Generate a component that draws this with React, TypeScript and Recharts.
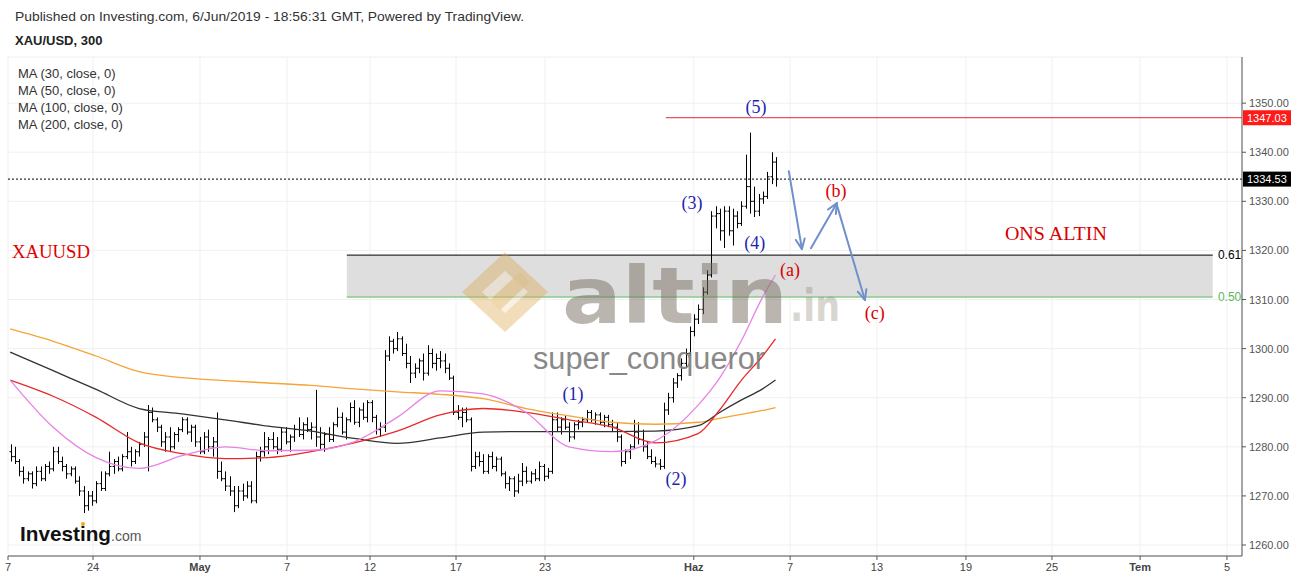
import React from 'react';
import {
  ComposedChart, Bar, Line, XAxis, YAxis, CartesianGrid,
  ReferenceLine, ReferenceArea, ReferenceDot,
} from 'recharts';

// ---------- data ----------
// OHLC bars: [open, high, low, close]
const bars: number[][] = [
  [1279, 1280.5, 1277, 1278], [1278, 1280, 1276.5, 1277],
  [1277, 1277.5, 1274, 1275], [1275, 1276, 1272.5, 1273.5], [1273.5, 1275, 1273, 1274.5], [1274.5, 1275, 1271.5, 1272.5],
  [1272.5, 1276, 1272, 1275], [1275, 1276, 1273, 1273.5], [1273.5, 1276.5, 1273, 1276], [1276, 1277, 1274.5, 1275.5],
  [1275.5, 1280, 1275, 1279], [1279, 1280, 1276.5, 1277],
  [1277, 1278, 1275, 1276], [1276, 1276.5, 1273.5, 1274.5], [1274.5, 1276, 1274, 1275.5], [1275.5, 1276, 1272.5, 1273],
  [1273, 1274, 1270, 1271], [1271, 1272, 1266.5, 1268], [1268, 1271, 1267, 1270], [1270, 1271, 1268, 1269],
  [1269, 1273, 1268.5, 1272.5], [1272.5, 1275, 1271, 1271.5], [1271.5, 1275, 1271, 1274.5],
  [1274.5, 1279, 1274, 1276], [1276, 1277.5, 1274.5, 1277], [1277, 1278, 1275, 1275.5], [1275.5, 1278.5, 1275, 1278],
  [1278, 1283, 1277.5, 1279], [1279, 1280, 1276, 1277], [1277, 1279.5, 1276.5, 1279], [1279, 1281, 1278, 1280.5],
  [1280.5, 1283, 1280, 1282], [1282, 1288.5, 1275, 1287],
  [1287, 1288, 1285, 1285.5], [1285.5, 1286, 1283, 1284], [1284, 1284.5, 1280, 1281], [1281, 1283, 1279, 1282],
  [1282, 1284, 1279, 1280], [1280, 1283, 1279.5, 1282.5], [1282.5, 1284, 1281, 1283.5], [1283.5, 1286, 1283, 1285.5],
  [1285.5, 1286, 1282.5, 1283],
  [1283, 1284.5, 1281, 1284], [1284, 1284.5, 1280, 1281], [1281, 1282, 1278.5, 1279], [1279, 1283, 1278.5, 1282],
  [1282, 1283.5, 1279, 1280], [1280, 1282, 1278, 1281], [1281, 1287, 1273.5, 1275],
  [1275, 1277, 1273, 1273.5], [1273.5, 1275, 1271, 1272], [1272, 1274, 1270, 1271], [1271, 1272, 1266.7, 1268],
  [1268, 1272, 1267.5, 1271], [1271, 1272.5, 1269, 1270], [1270, 1273, 1269.5, 1272], [1272, 1273, 1268.5, 1269],
  [1269, 1279, 1268.5, 1278],
  [1278, 1280, 1277, 1279], [1279, 1283, 1278, 1280], [1280, 1282, 1278.5, 1281.5], [1281.5, 1283, 1279.5, 1280],
  [1280, 1282, 1278.5, 1279.5], [1279.5, 1284, 1279, 1283], [1283, 1284, 1280.5, 1281], [1281, 1282.5, 1279, 1282],
  [1282, 1284.5, 1281, 1283.5],
  [1283.5, 1286, 1282, 1282.5], [1282.5, 1285, 1281.5, 1284.5], [1284.5, 1286, 1283, 1283.5], [1283.5, 1285, 1281.5, 1284],
  [1284, 1291.6, 1280, 1282],
  [1282, 1284, 1279.5, 1280.5], [1280.5, 1283, 1279, 1282.5], [1282.5, 1284, 1281, 1281.5], [1281.5, 1285, 1281, 1284.5],
  [1284.5, 1288, 1284, 1286], [1286, 1287, 1282.5, 1283], [1283, 1286, 1281.5, 1285.5], [1285.5, 1289, 1285, 1288],
  [1288, 1289.5, 1284.5, 1285], [1285, 1288, 1284, 1287.5], [1287.5, 1289, 1285.5, 1286], [1286, 1289.5, 1285, 1289],
  [1289, 1289.5, 1285, 1286],
  [1286, 1286.5, 1282.5, 1283.5], [1283.5, 1285, 1282, 1284], [1284, 1299.7, 1283, 1298.5],
  [1298.5, 1302.5, 1297.5, 1301.5], [1301.5, 1302, 1299, 1300], [1300, 1303.4, 1299.5, 1302],
  [1302, 1302.5, 1298.5, 1299], [1299, 1301, 1296, 1297],
  [1297, 1298.5, 1293, 1295], [1295, 1297, 1294, 1296], [1296, 1298, 1295, 1297.5], [1297.5, 1299, 1293.5, 1295],
  [1295, 1300.7, 1294.5, 1299], [1299, 1300, 1296, 1297], [1297, 1299, 1295.5, 1298], [1298, 1299.5, 1296, 1297.5],
  [1297.5, 1299, 1295, 1296], [1296, 1297, 1293.6, 1294],
  [1294, 1294.5, 1286.5, 1287], [1287, 1288.5, 1285.5, 1286], [1286, 1288, 1284, 1287], [1287, 1288, 1285, 1285.5],
  [1285.5, 1286, 1275, 1276],
  [1276, 1279, 1275.5, 1278], [1278, 1279, 1276, 1277], [1277, 1278.5, 1274.5, 1275], [1275, 1278.5, 1274.5, 1278],
  [1278, 1279, 1275.5, 1276], [1276, 1278, 1275, 1277.5], [1277.5, 1278, 1274, 1274.5],
  [1274.5, 1275, 1271.5, 1272.5], [1272.5, 1274, 1271, 1273.5], [1273.5, 1274, 1269.8, 1271], [1271, 1274.5, 1270.5, 1273],
  [1273, 1276.7, 1272, 1275], [1275, 1276, 1272.5, 1273],
  [1273, 1275, 1272.5, 1274.5], [1274.5, 1275.5, 1273, 1273.5], [1273.5, 1277, 1273, 1276], [1276, 1276.5, 1273, 1274],
  [1274, 1275.7, 1273.5, 1275], [1275, 1287, 1274.5, 1285.5],
  [1285.5, 1287, 1283, 1284], [1284, 1286, 1282.5, 1285.5], [1285.5, 1286.5, 1283.5, 1284], [1284, 1285, 1281, 1282],
  [1282, 1285, 1281.5, 1284.5], [1284.5, 1285.5, 1283.5, 1285], [1285, 1286, 1284, 1285.5],
  [1285.5, 1287.5, 1285, 1287], [1287, 1287.5, 1285, 1285.5], [1285.5, 1287, 1284.5, 1286.5], [1286.5, 1287, 1284.5, 1285],
  [1285, 1286.5, 1284, 1286], [1286, 1286.5, 1284, 1284.5], [1284.5, 1285.5, 1283, 1284],
  [1284, 1285, 1281, 1282], [1282, 1282.5, 1276, 1277], [1277, 1279.5, 1276.5, 1279], [1279, 1280.5, 1277.5, 1280],
  [1280, 1285.5, 1279.5, 1283], [1283, 1285, 1280.5, 1281.5], [1281.5, 1283.5, 1279, 1280],
  [1280, 1281, 1277.5, 1278], [1278, 1279.5, 1276.5, 1277], [1277, 1278, 1275.8, 1276.5], [1276.5, 1277.5, 1275.3, 1276],
  [1276, 1289, 1275.5, 1287.5], [1287.5, 1291, 1286.5, 1290], [1290, 1294, 1289, 1293], [1293, 1295, 1292, 1294.5],
  [1294.5, 1298, 1293.5, 1297], [1297, 1300, 1296, 1299], [1299, 1304.5, 1298.5, 1303.5], [1303.5, 1307, 1302.5, 1306],
  [1306, 1309, 1305, 1308], [1308, 1312.5, 1307, 1311.5], [1311.5, 1316, 1311, 1315], [1315, 1328, 1314.5, 1327],
  [1327, 1329, 1324.5, 1327.5], [1327.5, 1328.5, 1322, 1324], [1324, 1329, 1320.5, 1328], [1328, 1329, 1323, 1324],
  [1324, 1328.5, 1321, 1327], [1327, 1328, 1324.5, 1325.5], [1325.5, 1330, 1325, 1329], [1329, 1339.5, 1328.5, 1333],
  [1333, 1344, 1327.5, 1330], [1330, 1333, 1326.8, 1328], [1328, 1331.5, 1327, 1330.5], [1330.5, 1332, 1329.5, 1331],
  [1331, 1336, 1330.5, 1335], [1335, 1340, 1333.5, 1338], [1338, 1339, 1333, 1334.53],
];

// moving averages read at these bar indices
const maIdx = [0, 10, 20, 30, 40, 50, 60, 70, 80, 90, 100, 110, 120, 130, 140, 150, 160, 165, 170, 175, 178];
const ma30 = [1293.6, 1284, 1277.8, 1275.6, 1278.2, 1280, 1279.2, 1279.3, 1281, 1286, 1291.4, 1290.8, 1287, 1280, 1279, 1281.2, 1288.5, 1294, 1301.5, 1310.5, 1315];
const ma50 = [1293.6, 1290.3, 1286, 1280.8, 1278.6, 1277.6, 1277.8, 1279, 1280.8, 1283.2, 1286.5, 1287.8, 1287, 1285.5, 1284, 1280.8, 1282.7, 1287.5, 1293.5, 1298.5, 1302];
const ma100 = [1299.3, 1295.5, 1291.7, 1287.8, 1286.7, 1285.5, 1284.2, 1283.2, 1281.7, 1280.7, 1281.8, 1283, 1283.1, 1283.1, 1283.1, 1283.2, 1284.3, 1287, 1289.5, 1291.8, 1293.6];
const ma200 = [1304, 1301.5, 1298.5, 1295.3, 1294.1, 1293.5, 1293, 1292.5, 1291.8, 1291.2, 1290.7, 1289.8, 1287.8, 1286.3, 1285, 1284.6, 1285, 1285.8, 1286.6, 1287.4, 1288];

const xTickPos = [0, 19.77, 44.65, 64.9, 84.2, 104.2, 124.9, 159.5, 181.9, 202.1, 222.8, 242.8, 263.3, 283.5];
const xTickLabels = ['7', '24', 'May', '7', '12', '17', '23', 'Haz', '7', '13', '19', '25', 'Tem', '5'];
const boldLabels = ['May', 'Haz', 'Tem'];
const yTicks = [1260, 1270, 1280, 1290, 1300, 1310, 1320, 1330, 1340, 1350];
const maLegend = ['MA (30, close, 0)', 'MA (50, close, 0)', 'MA (100, close, 0)', 'MA (200, close, 0)'];

const resistance = 1347.03;
const lastPrice = 1334.53;
const fibTop = 1319.05;
const fibBottom = 1310.5;

// wave labels [t, price, text]
const waveLabels: [number, number, string][] = [
  [173.95, 1349.19, '(5)'], [159.07, 1329.64, '(3)'], [173.7, 1321.6, '(4)'],
  [131.4, 1290.75, '(1)'], [155.35, 1273.44, '(2)'],
];
const corrLabels: [number, number, string][] = [
  [181.86, 1316.0, '(a)'], [192.56, 1332.08, '(b)'], [201.6, 1307.24, '(c)'],
];
// arrows [t1, p1, t2, p2]
const arrows: number[][] = [
  [181.6, 1336.15, 184.65, 1320.27],
  [186.74, 1320.47, 192.79, 1329.64],
  [192.79, 1329.23, 199.3, 1309.89],
];

const data = bars.map((b, i) => {
  const row: any = { t: i + 0.5, o: b[0], h: b[1], l: b[2], c: b[3], range: [b[2], b[1]] };
  const k = maIdx.indexOf(i);
  if (k >= 0) {
    row.ma30 = ma30[k];
    row.ma50 = ma50[k];
    row.ma100 = ma100[k];
    row.ma200 = ma200[k];
  }
  return row;
});

const SANS = '"Liberation Sans", Arial, sans-serif';
const SERIF = '"Liberation Serif", "Times New Roman", serif';

const OhlcShape = (props: any) => {
  const { x, y, width, height, payload } = props;
  if (x == null || y == null || !payload) return null;
  const cx = Math.round(x + width / 2) + 0.5;
  const span = payload.h - payload.l || 1;
  const yo = y + ((payload.h - payload.o) / span) * height;
  const yc = y + ((payload.h - payload.c) / span) * height;
  return (
    <g stroke="#000" strokeWidth={1}>
      <line x1={cx} y1={y} x2={cx} y2={y + height} />
      <line x1={cx - 2} y1={yo} x2={cx} y2={yo} />
      <line x1={cx} y1={yc} x2={cx + 2} y2={yc} />
    </g>
  );
};

const XTick = (props: any) => {
  const { x, payload } = props;
  const idx = xTickPos.indexOf(payload.value);
  const label = xTickLabels[idx] ?? '';
  const bold = boldLabels.includes(label);
  return (
    <g>
      <line x1={x} y1={556} x2={x} y2={560} stroke="#555" />
      <text x={x} y={571} textAnchor="middle" fontSize={11} fontFamily={SANS}
        fontWeight={bold ? 'bold' : 'normal'} fill="#444">{label}</text>
    </g>
  );
};

const YTick = (props: any) => {
  const { y, payload } = props;
  return (
    <g>
      <line x1={1242} y1={y} x2={1246} y2={y} stroke="#555" />
      <text x={1249} y={y + 4} fontSize={11} fontFamily={SANS} fill="#555">{Number(payload.value).toFixed(2)}</text>
    </g>
  );
};

const arrowShape = (props: any) => {
  const { x1, y1, x2, y2 } = props;
  const dx = x2 - x1, dy = y2 - y1;
  const len = Math.hypot(dx, dy) || 1;
  const bx = -dx / len, by = -dy / len;
  const hl = 11, ang = 0.42;
  const c = Math.cos(ang), s = Math.sin(ang);
  const p1x = x2 + hl * (bx * c - by * s), p1y = y2 + hl * (bx * s + by * c);
  const p2x = x2 + hl * (bx * c + by * s), p2y = y2 + hl * (-bx * s + by * c);
  return (
    <g stroke="#7190cb" strokeWidth={2} fill="none" strokeLinecap="round" strokeLinejoin="round">
      <line x1={x1} y1={y1} x2={x2} y2={y2} />
      <polyline points={`${p1x},${p1y} ${x2},${y2} ${p2x},${p2y}`} />
    </g>
  );
};

const textShape = (text: string, color: string, size: number, anchor: string = 'middle', tl?: number) => (p: any) => (
  <text x={p.cx} y={p.cy + size * 0.33} textAnchor={anchor as any} fontSize={size} fontFamily={SERIF}
    fill={color} textLength={tl} lengthAdjust={tl ? 'spacingAndGlyphs' : undefined}>{text}</text>
);

const priceBox = (text: string, bg: string) => (p: any) => (
  <g>
    <rect x={p.cx + 1} y={p.cy - 7.5} width={48} height={15} fill={bg} />
    <text x={p.cx + 5} y={p.cy + 4} fontSize={11} fontFamily={SANS} fill="#fff">{text}</text>
  </g>
);

const fibText = (text: string, color: string, id: string) => (p: any) => (
  <g>
    <defs>
      <clipPath id={id}><rect x={p.cx - 2} y={p.cy - 12} width={1242 - p.cx + 2} height={24} /></clipPath>
    </defs>
    <text x={p.cx} y={p.cy + 4} fontSize={12} fontFamily={SANS} fill={color} clipPath={`url(#${id})`}>{text}</text>
  </g>
);

export default function App() {
  return (
    <div style={{ position: 'absolute', left: 0, top: 0, width: 1299, height: 580, background: '#fff', overflow: 'hidden' }}>
      <ComposedChart width={1299} height={580} data={data}
        margin={{ top: 57, right: 0, bottom: 0, left: 8 }}>
        <CartesianGrid stroke="#f0f0f0" />
        <XAxis type="number" dataKey="t" domain={[0, 287]} ticks={xTickPos} interval={0}
          height={24} axisLine={{ stroke: '#555' }} tickLine={false} tick={<XTick />} allowDataOverflow />
        <YAxis orientation="right" type="number" domain={[1257.76, 1359.4]} ticks={yTicks} width={57}
          axisLine={{ stroke: '#555' }} tickLine={false} tick={<YTick />} allowDataOverflow />
        <ReferenceArea x1={78.8} x2={280.2} y1={fibBottom} y2={fibTop} fill="#dedede" fillOpacity={1} stroke="none" />
        <ReferenceLine segment={[{ x: 78.8, y: fibTop }, { x: 280.2, y: fibTop }]} stroke="#000" strokeWidth={1} />
        <ReferenceLine segment={[{ x: 78.8, y: fibBottom }, { x: 280.2, y: fibBottom }]} stroke="#5cb85c" strokeWidth={1} />
        <ReferenceLine y={lastPrice} stroke="#000" strokeDasharray="2 2" strokeWidth={1} />
        <ReferenceLine segment={[{ x: 153, y: resistance }, { x: 287, y: resistance }]} stroke="#e0283a" strokeWidth={1} />
        <Line dataKey="ma200" stroke="#f5a436" strokeWidth={1.3} dot={false} connectNulls type="monotone" isAnimationActive={false} />
        <Line dataKey="ma100" stroke="#333" strokeWidth={1.3} dot={false} connectNulls type="monotone" isAnimationActive={false} />
        <Line dataKey="ma50" stroke="#e52a2a" strokeWidth={1.3} dot={false} connectNulls type="monotone" isAnimationActive={false} />
        <Line dataKey="ma30" stroke="#e882e6" strokeWidth={1.3} dot={false} connectNulls type="monotone" isAnimationActive={false} />
        <Bar dataKey="range" barSize={3} shape={<OhlcShape />} isAnimationActive={false} />
        {arrows.map((a, i) => (
          <ReferenceLine key={'ar' + i} segment={[{ x: a[0], y: a[1] }, { x: a[2], y: a[3] }]} shape={arrowShape} />
        ))}
        {waveLabels.map((w, i) => (
          <ReferenceDot key={'w' + i} x={w[0]} y={w[1]} r={0} shape={textShape(w[2], '#1f1fb0', 18)} />
        ))}
        {corrLabels.map((w, i) => (
          <ReferenceDot key={'c' + i} x={w[0]} y={w[1]} r={0} shape={textShape(w[2], '#d80000', 18)} />
        ))}
        <ReferenceDot x={0.93} y={1319.66} r={0} shape={textShape('XAUUSD', '#e00000', 18, 'start', 78)} />
        <ReferenceDot x={231.86} y={1323.33} r={0} shape={textShape('ONS ALTIN', '#d80000', 18, 'start', 102)} />
        <ReferenceDot x={287} y={resistance} r={0} shape={priceBox(resistance.toFixed(2), '#ff1a1a')} />
        <ReferenceDot x={287} y={lastPrice} r={0} shape={priceBox(lastPrice.toFixed(2), '#000')} />
        <ReferenceDot x={281.4} y={fibTop} r={0} shape={fibText('0.618', '#000', 'fibA')} />
        <ReferenceDot x={281.4} y={fibBottom} r={0} shape={fibText('0.500', '#5cb85c', 'fibB')} />
      </ComposedChart>
      <svg width={1299} height={580} style={{ position: 'absolute', left: 0, top: 0, pointerEvents: 'none' }}>
        <text x={15} y={21} fontSize={13} fontFamily={SANS} fill="#333" textLength={509} lengthAdjust="spacingAndGlyphs">
          Published on Investing.com, 6/Jun/2019 - 18:56:31 GMT, Powered by TradingView.
        </text>
        <text x={15} y={45} fontSize={13} fontWeight="bold" fontFamily={SANS} fill="#222">XAU/USD, 300</text>
        {maLegend.map((m, i) => (
          <text key={m} x={18} y={78 + i * 17} fontSize={13} fontFamily={SANS} fill="#333">{m}</text>
        ))}
        {/* watermark */}
        <g opacity={0.5}>
          <polygon points="462,292 505,252 548,292 505,332" fill="#dca64a" opacity={0.75} />
          <polygon points="482,292 505,271 528,292 505,313" fill="#fff" opacity={0.6} />
          <polygon points="490,300 520,272 530,282 500,310" fill="#dca64a" opacity={0.8} />
        </g>
        <text x={562} y={323} fontSize={78} fontWeight="bold" fontFamily='"DejaVu Sans", sans-serif'
          fill="rgb(120,110,95)" opacity={0.5} textLength={226} lengthAdjust="spacingAndGlyphs">altin</text>
        <text x={790} y={321} fontSize={44} fontWeight="bold" fontFamily='"DejaVu Sans", sans-serif'
          fill="rgb(120,110,95)" opacity={0.28} textLength={50} lengthAdjust="spacingAndGlyphs">.in</text>
        <text x={533} y={369} fontSize={31} fontFamily={SANS} fill="#7d7d7d" opacity={0.9}
          textLength={232} lengthAdjust="spacingAndGlyphs">super_conqueror</text>
        {/* investing logo */}
        <text x={20} y={541} fontSize={21} fontWeight="bold" fontFamily={SANS} fill="#111" textLength={91} lengthAdjust="spacingAndGlyphs">Investing</text>
        <circle cx={83} cy={524} r={2} fill="#f5a623" />
        <text x={111} y={541} fontSize={14} fontFamily={SANS} fill="#555">.com</text>
      </svg>
    </div>
  );
}
